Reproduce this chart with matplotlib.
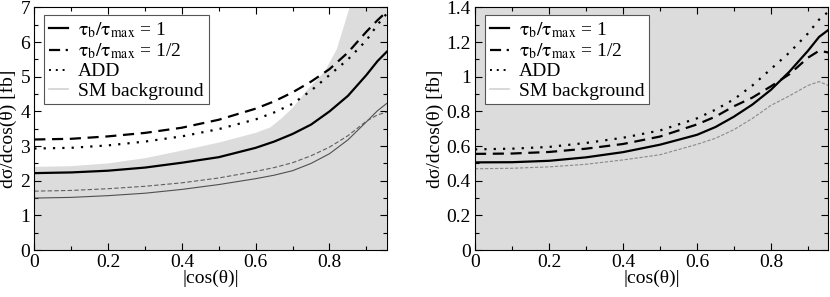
import numpy as np
import matplotlib
matplotlib.use('agg')
import matplotlib.pyplot as plt
from matplotlib.lines import Line2D
from matplotlib.ticker import MultipleLocator

plt.rcParams['font.family'] = ['Liberation Serif', 'DejaVu Serif']
plt.rcParams['mathtext.fontset'] = 'stix'

BAND_COLOR = '#dcdcdc'
BG_LINE_COLOR = '#d2d2d2'

# |cos(theta)| sample points
cos_theta = [0.0, 0.1, 0.2, 0.3, 0.4, 0.5, 0.6, 0.65, 0.7, 0.75, 0.8, 0.85, 0.9, 0.93, 0.955]

# left panel
left_tau_1 = [2.22, 2.24, 2.29, 2.38, 2.52, 2.68, 2.95, 3.13, 3.35, 3.62, 4.0, 4.45, 5.05, 5.45, 5.72]
left_tau_half = [3.19, 3.21, 3.28, 3.38, 3.53, 3.76, 4.08, 4.29, 4.55, 4.86, 5.22, 5.70, 6.30, 6.63, 6.88]
left_add = [2.93, 2.95, 3.02, 3.13, 3.28, 3.49, 3.77, 3.97, 4.22, 4.60, 5.05, 5.5, 6.05, 6.5, 6.82]
left_sm_tau_1 = [1.50, 1.52, 1.57, 1.64, 1.75, 1.89, 2.06, 2.16, 2.29, 2.50, 2.78, 3.18, 3.70, 4.02, 4.23]
left_sm_tau_half = [1.70, 1.72, 1.77, 1.84, 1.94, 2.08, 2.27, 2.38, 2.52, 2.72, 2.97, 3.30, 3.72, 3.90, 3.98]
band_x = [0.0, 0.1, 0.2, 0.3, 0.4, 0.5, 0.6, 0.64, 0.67, 0.7, 0.742, 0.787, 0.82, 0.856, 0.955]
band_upper = [2.40, 2.42, 2.50, 2.65, 2.87, 3.10, 3.38, 3.54, 3.80, 4.10, 4.65, 5.15, 5.80, 7.05, 9.0]

# right panel
right_tau_1 = [0.506, 0.507, 0.515, 0.535, 0.565, 0.608, 0.665, 0.71, 0.77, 0.84, 0.925, 1.03, 1.15, 1.23, 1.27]
right_tau_half = [0.555, 0.557, 0.566, 0.585, 0.612, 0.655, 0.725, 0.77, 0.83, 0.88, 0.945, 1.015, 1.11, 1.15, 1.14]
right_add = [0.581, 0.585, 0.595, 0.618, 0.648, 0.69, 0.76, 0.81, 0.87, 0.95, 1.045, 1.14, 1.25, 1.33, 1.375]
right_sm = [0.469, 0.472, 0.480, 0.495, 0.520, 0.550, 0.610, 0.645, 0.695, 0.76, 0.835, 0.89, 0.95, 0.972, 0.95]

legend_labels = [r'$\mathrm{\tau_b/\tau_{max}}$ = 1', r'$\mathrm{\tau_b/\tau_{max}}$ = 1/2',
                 'ADD', 'SM background']


def styleAxes(ax, ymax, ymajor, yminor):
    ax.set_xlim(0, 0.955)
    ax.set_ylim(0, ymax)
    ax.xaxis.set_major_locator(MultipleLocator(0.2))
    ax.xaxis.set_minor_locator(MultipleLocator(0.1))
    ax.yaxis.set_major_locator(MultipleLocator(ymajor))
    ax.yaxis.set_minor_locator(MultipleLocator(yminor))
    ax.tick_params(which='both', direction='in', top=True, right=True, labelsize=14, pad=3)
    ax.tick_params(which='major', length=5, width=0.8)
    ax.tick_params(which='minor', length=3, width=0.8)
    ax.xaxis.set_major_formatter(plt.FuncFormatter(lambda v, p: '%g' % round(v, 2)))
    ax.yaxis.set_major_formatter(plt.FuncFormatter(lambda v, p: '%g' % round(v, 2)))
    ax.set_xlabel('|cos(θ)|', fontsize=14, labelpad=-1)
    ax.set_ylabel('dσ/dcos(θ) [fb]', fontsize=14, labelpad=2)
    for s in ax.spines.values():
        s.set_linewidth(0.8)
    handles = [Line2D([0], [0], color='black', lw=1.6),
               Line2D([0], [0], color='black', lw=1.6, dashes=(5, 2.5, 1, 2.5)),
               Line2D([0], [0], color='black', lw=1.4, dashes=(1, 2.5)),
               Line2D([0], [0], color=BG_LINE_COLOR, lw=1.2)]
    leg = ax.legend(handles, legend_labels, loc='upper left', fontsize=14, handlelength=1.0,
                    handletextpad=0.5, labelspacing=0.08, borderpad=0.25,
                    bbox_to_anchor=(0.028, 0.967), fancybox=False, framealpha=1, borderaxespad=0)
    leg.get_frame().set_edgecolor('#555555')
    leg.get_frame().set_linewidth(0.8)


fig = plt.figure(figsize=(8.3, 2.97), dpi=100)
axL = fig.add_axes([0.0413, 0.158, 0.4246, 0.817])
axR = fig.add_axes([0.5723, 0.158, 0.4257, 0.817])

# left panel
axL.fill_between(band_x, 0, band_upper, color=BAND_COLOR, lw=0)
axL.plot(cos_theta, left_sm_tau_1, color='#505050', lw=0.8)
axL.plot(cos_theta, left_sm_tau_half, color='#606060', lw=0.8, dashes=(4, 2))
axL.plot(cos_theta, left_add, color='black', lw=1.6, dashes=(1, 3.2))
axL.plot(cos_theta, left_tau_half, color='black', lw=1.6, dashes=(5, 3))
axL.plot(cos_theta, left_tau_1, color='black', lw=1.6)
styleAxes(axL, 7, 1, 0.5)

# right panel
axR.set_facecolor(BAND_COLOR)
axR.plot(cos_theta, right_sm, color='#8a8a8a', lw=0.8, dashes=(3, 1.5))
axR.plot(cos_theta, right_add, color='black', lw=1.6, dashes=(1, 3.2))
axR.plot(cos_theta, right_tau_half, color='black', lw=1.6, dashes=(5, 3))
axR.plot(cos_theta, right_tau_1, color='black', lw=1.6)
styleAxes(axR, 1.4, 0.2, 0.1)

plt.savefig('out.png', dpi=100)
